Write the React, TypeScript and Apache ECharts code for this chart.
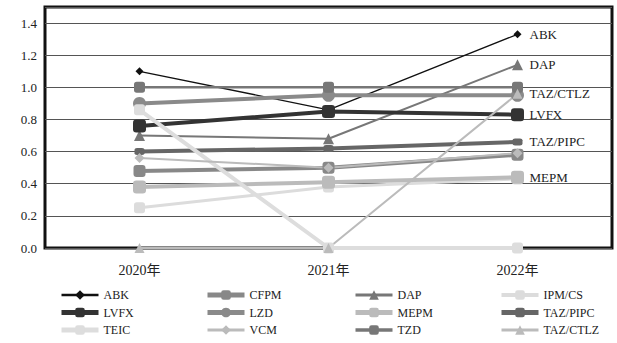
import React, { useEffect, useRef } from "react";
import * as echarts from "echarts";

const categories = ["2020年", "2021年", "2022年"];
const yTicks = { min: 0, max: 1.5, interval: 0.2 };

const ABK = [1.1, 0.86, 1.33];
const CFPM = [0.48, 0.5, 0.58];
const DAP = [0.7, 0.68, 1.14];
const IPM_CS = [0.25, 0.38, 0.43];
const LVFX = [0.76, 0.85, 0.83];
const LZD = [0.9, 0.95, 0.95];
const MEPM = [0.38, 0.41, 0.44];
const TAZ_PIPC = [0.6, 0.62, 0.66];
const TEIC = [0.86, 0, 0];
const VCM = [0.56, 0.5, 0.59];
const TZD = [1.0, 1.0, 1.0];
const TAZ_CTLZ = [0, 0, 0.96];

const FONT = "Liberation Serif, Times New Roman, DejaVu Serif, Noto Sans CJK SC, serif";

type S = {
  name: string;
  data: number[];
  color: string;
  width: number;
  symbol: string;
  size: number | number[];
  end?: boolean;
};

const seriesDefs: S[] = [
  { name: "ABK", data: ABK, color: "#111111", width: 1.3, symbol: "diamond", size: 8, end: true },
  { name: "CFPM", data: CFPM, color: "#888888", width: 4, symbol: "roundRect", size: 12 },
  { name: "DAP", data: DAP, color: "#777777", width: 2, symbol: "triangle", size: 11, end: true },
  { name: "IPM/CS", data: IPM_CS, color: "#dcdcdc", width: 3, symbol: "roundRect", size: 11 },
  { name: "LVFX", data: LVFX, color: "#333333", width: 4, symbol: "roundRect", size: 13, end: true },
  { name: "LZD", data: LZD, color: "#8a8a8a", width: 4, symbol: "circle", size: 13 },
  { name: "MEPM", data: MEPM, color: "#bbbbbb", width: 4, symbol: "roundRect", size: 13, end: true },
  { name: "TAZ/PIPC", data: TAZ_PIPC, color: "#666666", width: 4, symbol: "roundRect", size: [10, 7], end: true },
  { name: "TEIC", data: TEIC, color: "#dddddd", width: 4, symbol: "roundRect", size: 11 },
  { name: "VCM", data: VCM, color: "#bbbbbb", width: 2, symbol: "diamond", size: 10 },
  { name: "TZD", data: TZD, color: "#777777", width: 2.5, symbol: "roundRect", size: 11 },
  { name: "TAZ/CTLZ", data: TAZ_CTLZ, color: "#bbbbbb", width: 2, symbol: "triangle", size: 10, end: true },
];

const legendColumns = [
  ["ABK", "LVFX", "TEIC"],
  ["CFPM", "LZD", "VCM"],
  ["DAP", "MEPM", "TZD"],
  ["IPM/CS", "TAZ/PIPC", "TAZ/CTLZ"],
];
const legendLefts = [59, 205, 353, 499];

export default function App() {
  const ref = useRef<HTMLDivElement>(null);
  useEffect(() => {
    if (!ref.current) return;
    const chart = echarts.init(ref.current, null, { renderer: "svg" });
    const byName: Record<string, S> = {};
    seriesDefs.forEach((s) => (byName[s.name] = s));
    chart.setOption({
      animation: false,
      grid: {
        left: 45,
        right: 5,
        top: 7,
        bottom: 95,
        show: true,
        borderColor: "#111",
        borderWidth: 3,
        containLabel: false,
      },
      xAxis: {
        type: "category",
        data: categories,
        boundaryGap: true,
        axisLine: { show: false },
        axisTick: { show: false },
        axisLabel: { fontFamily: FONT, fontSize: 14, color: "#222", margin: 15 },
      },
      yAxis: {
        type: "value",
        min: yTicks.min,
        max: yTicks.max,
        interval: yTicks.interval,
        axisLine: { show: false },
        axisTick: { show: false },
        axisLabel: {
          fontFamily: FONT,
          fontSize: 13,
          color: "#222",
          margin: 8,
          showMaxLabel: false,
          formatter: (v: number) => v.toFixed(1),
        },
        splitLine: { lineStyle: { color: "#555", width: 1.2 } },
      },
      legend: legendColumns.map((col, i) => ({
        data: col.map((n) => ({
          name: n,
          lineStyle: { width: Math.max(2, byName[n].width + 1), color: byName[n].color },
        })),
        orient: "vertical",
        left: legendLefts[i],
        top: 289,
        padding: 0,
        itemWidth: 37,
        itemHeight: 12,
        itemGap: 5.5,
        textStyle: { fontFamily: FONT, fontSize: 12, color: "#222" },
      })),
      series: seriesDefs.map((s) => ({
        name: s.name,
        type: "line",
        data: s.data,
        symbol: s.symbol,
        symbolSize: s.size,
        showAllSymbol: true,
        itemStyle: { color: s.color },
        lineStyle: { color: s.color, width: s.width },
        emphasis: { disabled: true },
        endLabel: s.end
          ? {
              show: true,
              formatter: "{a}",
              distance: 12,
              fontFamily: FONT,
              fontSize: 13,
              color: "#222",
            }
          : { show: false },
      })),
    });
    return () => chart.dispose();
  }, []);
  return (
    <div
      ref={ref}
      style={{ position: "absolute", left: 0, top: 0, width: 617, height: 343, background: "#fff" }}
    />
  );
}
